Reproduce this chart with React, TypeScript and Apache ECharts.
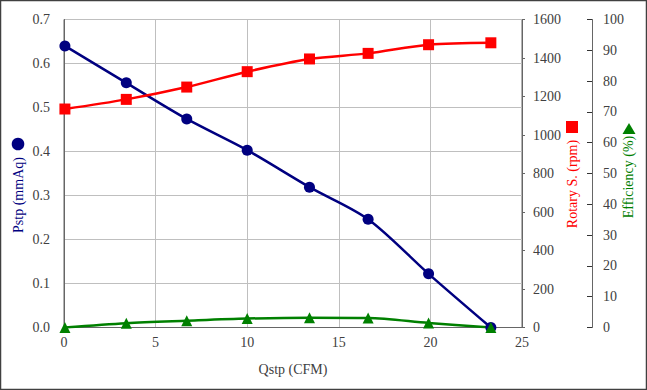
import React, { useEffect, useRef } from "react";
import * as echarts from "echarts";

const qstp = [0.05, 3.4, 6.7, 10.0, 13.4, 16.6, 19.9, 23.3];
const pstp = [0.64, 0.556, 0.474, 0.403, 0.319, 0.246, 0.122, 0];
const rpm = [1135, 1185, 1249, 1329, 1395, 1424, 1469, 1479];
const eff = [0, 1.4, 2.2, 2.9, 3.2, 3.1, 1.5, 0];

const FONT = "Liberation Serif";
const NAVY = "#000080";
const RED = "#ff0000";
const GREEN = "#008000";
const LABEL = "#404040";

export default function App() {
  const ref = useRef<HTMLDivElement>(null);
  useEffect(() => {
    if (!ref.current) return;
    const chart = echarts.init(ref.current, undefined, { renderer: "svg" });
    const pair = (ys: number[]) => qstp.map((x, i) => [x, ys[i]]);
    const axisLabel = { color: LABEL, fontFamily: FONT, fontSize: 14 };
    const titleStyle = (text: string, fill: string) => ({
      text,
      fontFamily: FONT,
      fontSize: 14,
      fill,
      textAlign: "center",
      textVerticalAlign: "middle",
    });
    chart.setOption({
      animation: false,
      backgroundColor: "#ffffff",
      grid: {
        left: 64,
        right: 125,
        top: 19.5,
        bottom: 62.5,
        show: true,
        borderColor: "#666666",
        borderWidth: 1,
        backgroundColor: "transparent",
      },
      xAxis: {
        type: "value",
        min: 0,
        max: 25,
        interval: 5,
        axisLine: { show: true, lineStyle: { color: "#666666" } },
        axisTick: { show: false },
        axisLabel: { ...axisLabel, margin: 8, formatter: (v: number) => String(v) },
        splitLine: { show: true, lineStyle: { color: "#bfbfbf" } },
      },
      yAxis: [
        {
          type: "value",
          position: "left",
          min: 0,
          max: 0.7,
          interval: 0.1,
          axisLine: { show: true, lineStyle: { color: "#666666" } },
          axisTick: { show: false },
          axisLabel: { ...axisLabel, margin: 14, formatter: (v: number) => v.toFixed(1) },
          splitLine: { show: true, lineStyle: { color: "#bfbfbf" } },
        },
        {
          type: "value",
          position: "right",
          min: 0,
          max: 1600,
          interval: 200,
          axisLine: { show: true, lineStyle: { color: "#666666" } },
          axisTick: { show: true, length: 3, lineStyle: { color: "#666666" } },
          axisLabel: { ...axisLabel, margin: 11, formatter: (v: number) => String(v) },
          splitLine: { show: false },
        },
        {
          type: "value",
          position: "right",
          offset: 70,
          min: 0,
          max: 100,
          interval: 10,
          axisLine: { show: true, lineStyle: { color: "#666666" } },
          axisTick: { show: true, inside: true, length: 5, lineStyle: { color: "#333333" } },
          axisLabel: { ...axisLabel, margin: 11, formatter: (v: number) => String(v) },
          splitLine: { show: false },
        },
      ],
      series: [
        {
          type: "line",
          yAxisIndex: 0,
          data: pair(pstp),
          smooth: 0.3,
          symbol: "circle",
          symbolSize: 11,
          lineStyle: { color: NAVY, width: 2.5 },
          itemStyle: { color: NAVY },
        },
        {
          type: "line",
          yAxisIndex: 1,
          data: pair(rpm),
          smooth: 0.3,
          symbol: "rect",
          symbolSize: 11,
          lineStyle: { color: RED, width: 2.5 },
          itemStyle: { color: RED },
        },
        {
          type: "line",
          yAxisIndex: 2,
          data: pair(eff),
          smooth: 0.3,
          symbol: "triangle",
          symbolSize: 11,
          lineStyle: { color: GREEN, width: 2.5 },
          itemStyle: { color: GREEN },
        },
      ],
      graphic: [
        {
          type: "rect",
          shape: { x: 0.5, y: 0.5, width: 646, height: 389 },
          style: { fill: "none", stroke: "#404040", lineWidth: 1.5 },
          silent: true,
        },
        { type: "text", x: 293, y: 369, style: titleStyle("Qstp (CFM)", LABEL) },
        { type: "text", x: 18, y: 195, rotation: Math.PI / 2, style: titleStyle("Pstp (mmAq)", NAVY) },
        { type: "circle", shape: { cx: 18, cy: 144, r: 6.3 }, style: { fill: NAVY } },
        { type: "text", x: 572, y: 184, rotation: Math.PI / 2, style: titleStyle("Rotary S. (rpm)", RED) },
        { type: "rect", shape: { x: 566, y: 121, width: 12, height: 12 }, style: { fill: RED } },
        { type: "text", x: 628, y: 177, rotation: Math.PI / 2, style: titleStyle("Efficiency (%)", GREEN) },
        {
          type: "polygon",
          shape: { points: [[629, 123], [635.5, 134], [622.5, 134]] },
          style: { fill: GREEN },
        },
      ],
    });
    return () => chart.dispose();
  }, []);
  return (
    <div
      ref={ref}
      style={{ position: "absolute", left: 0, top: 0, width: 647, height: 390 }}
    />
  );
}
